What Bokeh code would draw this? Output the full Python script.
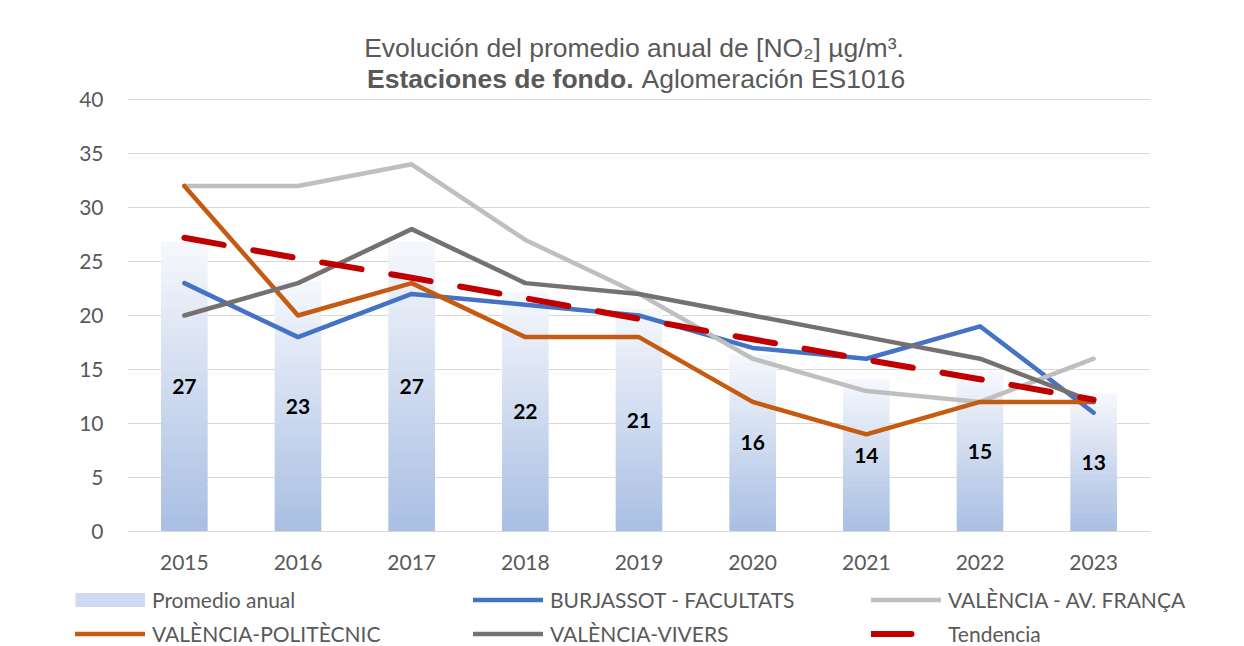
from bokeh.plotting import figure
from bokeh.models import (ColumnDataSource, Legend, LegendItem, FixedTicker, FactorRange)
from bokeh.core.properties import value
from bokeh.embed import file_html
from bokeh.resources import INLINE

# ---------------- data ----------------
years = ["2015", "2016", "2017", "2018", "2019", "2020", "2021", "2022", "2023"]
promedio = [26.8, 23.2, 26.8, 22.2, 20.6, 16.4, 14.1, 14.8, 12.8]
promedio_labels = ["27", "23", "27", "22", "21", "16", "14", "15", "13"]
burjassot = [23, 18, 22, 21, 20, 17, 16, 19, 11]
av_franca = [32, 32, 34, 27, 22, 16, 13, 12, 16]
politecnic = [32, 20, 23, 18, 18, 12, 9, 12, 12]
vivers = [20, 23, 28, 23, 22, 20, 18, 16, 12]
tendencia = [27.2, 25.3, 23.5, 21.6, 19.7, 17.8, 15.9, 14.1, 12.2]
y_ticks = [0, 5, 10, 15, 20, 25, 30, 35, 40]

series_names = ["Promedio anual", "BURJASSOT - FACULTATS", "VALÈNCIA - AV. FRANÇA",
                "VALÈNCIA-POLITÈCNIC", "VALÈNCIA-VIVERS", "Tendencia"]
title_line1 = "Evolución del promedio anual de [NO₂] µg/m³."
title_line2_bold = "Estaciones de fondo."
title_line2_rest = "Aglomeración ES1016"

# ---------------- style ----------------
TXT = "#595959"
GRID = "#d9d9d9"
C_BAR = "#cddaef"
C_BLUE = "#4472c4"
C_LGREY = "#bfbfbf"
C_ORANGE = "#c55a11"
C_DGREY = "#767171"
C_RED = "#c00000"
TOP_RGB = (0xf5, 0xf7, 0xfc)
BOT_RGB = (0xa9, 0xbf, 0xe3)
N_SLICES = 40
W = 1244
Y_TOP = 49.17          # range top, leaves room for the title above the 40 gridline

line_styles = [
    dict(line_color=C_BLUE, line_width=4.5),
    dict(line_color=C_LGREY, line_width=4.5),
    dict(line_color=C_ORANGE, line_width=4.5),
    dict(line_color=C_DGREY, line_width=4.5),
    dict(line_color=C_RED, line_width=6, line_dash="40 30"),
]

# ---------------- main chart (title drawn inside the frame, above 40) ----------------
p = figure(width=W, height=581, x_range=FactorRange(*years), y_range=(0, Y_TOP),
           output_backend="svg", toolbar_location=None,
           min_border_left=127, min_border_right=94, min_border_top=0,
           min_border_bottom=50)
p.outline_line_color = None
p.background_fill_color = "white"
p.border_fill_color = "white"

# title
tfont = value("Liberation Sans")
p.text(x=["2019"], y=[44.81], text=[title_line1], text_align="center",
       text_baseline="middle", text_font=tfont, text_font_size="26.5px",
       text_color=TXT, x_offset=-5)
p.text(x=["2019"], y=[41.94], text=[title_line2_bold], text_align="right",
       text_baseline="middle", text_font=tfont, text_font_size="26.5px",
       text_font_style="bold", text_color=TXT, x_offset=-5.5)
p.text(x=["2019"], y=[41.94], text=[title_line2_rest], text_align="left",
       text_baseline="middle", text_font=tfont, text_font_size="26.5px",
       text_color=TXT, x_offset=2.5)

# gradient bars: stacked slices for each bar
gx, gb, gt, gc = [], [], [], []
for yr, v in zip(years, promedio):
    for k in range(N_SLICES):
        f = k / (N_SLICES - 1)  # 0 bottom -> 1 top
        rgb = tuple(round(BOT_RGB[i] + (TOP_RGB[i] - BOT_RGB[i]) * f) for i in range(3))
        gx.append(yr)
        gb.append(v * k / N_SLICES)
        gt.append(min(v, v * (k + 1.15) / N_SLICES))
        gc.append("#%02x%02x%02x" % rgb)
bar_src = ColumnDataSource(dict(x=gx, bottom=gb, top=gt, color=gc))
p.vbar(x="x", bottom="bottom", top="top", width=0.41, fill_color="color",
       line_color=None, source=bar_src)

src = ColumnDataSource(dict(x=years, burjassot=burjassot, av_franca=av_franca,
                            politecnic=politecnic, vivers=vivers, tendencia=tendencia,
                            lab_y=[v / 2 for v in promedio], lab=promedio_labels))

for col, st in zip(["burjassot", "av_franca", "politecnic", "vivers", "tendencia"],
                   line_styles):
    p.line("x", col, line_cap="round", line_join="round", source=src, **st)

p.text(x="x", y="lab_y", text="lab", source=src, text_align="center",
       text_baseline="middle", text_font=value("Lato"), text_font_style="bold",
       text_font_size="21px", text_color="black")

# axes
p.yaxis.ticker = FixedTicker(ticks=y_ticks)
p.yaxis.axis_line_color = None
p.yaxis.major_tick_line_color = None
p.yaxis.minor_tick_line_color = None
p.yaxis.major_tick_out = 0
p.yaxis.major_tick_in = 0
p.yaxis.major_label_standoff = 24
p.yaxis.major_label_text_font = "Lato"
p.yaxis.major_label_text_font_size = "21px"
p.yaxis.major_label_text_color = TXT

p.xaxis.axis_line_color = GRID
p.xaxis.axis_line_width = 1
p.xaxis.major_tick_line_color = None
p.xaxis.minor_tick_line_color = None
p.xaxis.major_tick_out = 0
p.xaxis.major_tick_in = 0
p.xaxis.major_label_standoff = 23
p.xaxis.major_label_text_font = "Lato"
p.xaxis.major_label_text_font_size = "21px"
p.xaxis.major_label_text_color = TXT

p.xgrid.grid_line_color = None
p.ygrid.grid_line_color = GRID
p.ygrid.grid_line_width = 1
p.ygrid.ticker = FixedTicker(ticks=y_ticks)

# ---------------- legend panel ----------------
pl = figure(width=W, height=65, x_range=(0, 1), y_range=(0, 1),
            output_backend="svg", toolbar_location=None,
            min_border=0, min_border_left=0, min_border_right=0,
            min_border_top=0, min_border_bottom=0)
pl.outline_line_color = None
pl.background_fill_color = "white"
pl.border_fill_color = "white"
pl.axis.visible = False
pl.grid.visible = False
off = [-5, -4]  # proxy glyphs lie outside the visible range
leg_r = [pl.line(x=off, y=off, line_color=C_BAR, line_width=14, line_cap="butt")]
for st in line_styles:
    leg_r.append(pl.line(x=off, y=off, line_cap="round", line_join="round", **st))
legkw = dict(orientation="horizontal", glyph_width=70, glyph_height=25,
             label_height=25, label_width=321, label_standoff=7, spacing=0,
             padding=0, margin=0, border_line_color=None, background_fill_alpha=0,
             label_text_font="Lato", label_text_font_size="21px",
             label_text_color=TXT)
leg1 = Legend(items=[LegendItem(label=series_names[i], renderers=[leg_r[i]]) for i in (0, 1, 2)],
              location=(75, 34), **legkw)
leg2 = Legend(items=[LegendItem(label=series_names[i], renderers=[leg_r[i]]) for i in (3, 4, 5)],
              location=(75, 0), **legkw)
pl.add_layout(leg1, "center")
pl.add_layout(leg2, "center")

open("out.html", "w").write(file_html([p, pl], INLINE))
